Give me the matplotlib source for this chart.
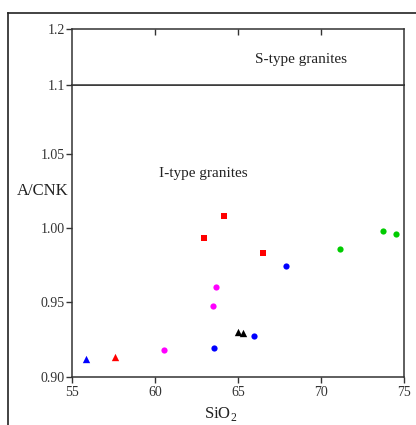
import numpy as np
import matplotlib
matplotlib.use('Agg')
import matplotlib.pyplot as plt
from matplotlib.lines import Line2D

plt.rcParams['font.family'] = 'Liberation Serif'
plt.rcParams['mathtext.fontset'] = 'custom'
plt.rcParams['mathtext.rm'] = 'Liberation Serif'

# SiO2 vs A/CNK, one list pair per sample group
blue_tri_x = [55.85]
blue_tri_y = [0.912]
red_tri_x = [57.6]
red_tri_y = [0.913]
magenta_x = [60.56, 63.49, 63.67]
magenta_y = [0.918, 0.947, 0.960]
blue_dot_x = [63.57, 65.98, 67.87]
blue_dot_y = [0.919, 0.927, 0.974]
black_tri_x = [65.0, 65.32]
black_tri_y = [0.930, 0.929]
red_sq_x = [62.93, 64.16, 66.49]
red_sq_y = [0.993, 1.008, 0.983]
green_x = [71.14, 73.75, 74.52]
green_y = [0.986, 0.998, 0.996]

xticks = [55, 60, 65, 70, 75]
yticks_low = [0.90, 0.95, 1.00, 1.05, 1.1]
ylabels_low = ['0.90', '0.95', '1.00', '1.05', '1.1']

# the original diagram's y axis is slightly uneven between ticks
y_knots = np.array([0.90, 0.95, 1.00, 1.05, 1.10])
y_pos = np.array([0.0, 75.0, 148.7, 222.4, 291.4])


def fwd(v):
    return np.interp(v, y_knots, y_pos, left=-1e3, right=1e3)


def inv(p):
    return np.interp(p, y_pos, y_knots)


fig = plt.figure(figsize=(4.16, 4.25), dpi=100)

# outer frame
fig.add_artist(Line2D([8/416, 8/416], [0, 1 - 13/425], color='#222222', lw=1.2))
fig.add_artist(Line2D([8/416, 1], [1 - 13/425, 1 - 13/425], color='#222222', lw=1.2))

left, width = 72/416, 332/416
y_bot = 1 - 376.7/425
y_mid = 1 - 85.3/425
y_top = 1 - 29/425

ax = fig.add_axes([left, y_bot, width, y_mid - y_bot])
ax_up = fig.add_axes([left, y_mid, width, y_top - y_mid])

spine_col = '#333333'
for a in (ax, ax_up):
    for s in a.spines.values():
        s.set_color(spine_col)
        s.set_linewidth(1.1)
    a.set_xlim(55, 75)

ax.set_yscale('function', functions=(fwd, inv))

ms = 20
ax.scatter(blue_tri_x, blue_tri_y, marker='^', s=ms + 8, c='#0000ff', lw=0)
ax.scatter(red_tri_x, red_tri_y, marker='^', s=ms + 8, c='#ff0000', lw=0)
ax.scatter(magenta_x, magenta_y, marker='o', s=ms, c='#ff00ff', lw=0)
ax.scatter(blue_dot_x, blue_dot_y, marker='o', s=ms, c='#0000ff', lw=0)
ax.scatter(black_tri_x, black_tri_y, marker='^', s=ms + 8, c='#000000', lw=0)
ax.scatter(red_sq_x, red_sq_y, marker='s', s=ms, c='#ff0000', lw=0)
ax.scatter(green_x, green_y, marker='o', s=ms, c='#00cc00', lw=0)

ax.set_ylim(0.9, 1.1)
ax.set_yticks(yticks_low)
ax.set_yticklabels(ylabels_low)
ax.minorticks_off()
ax.set_xticks(xticks)
ax.tick_params(axis='both', direction='out', length=4, width=1,
               color=spine_col, labelsize=10, labelcolor='#333333', pad=1)
ax.tick_params(axis='x', pad=3)

ax_up.set_ylim(1.1, 1.2)
ax_up.set_yticks([1.2])
ax_up.set_yticklabels(['1.2'])
ax_up.tick_params(axis='y', direction='out', length=4, width=1,
                  color=spine_col, labelsize=10, labelcolor='#333333', pad=1)
ax_up.set_xticks([60, 65, 70])
ax_up.tick_params(axis='x', top=True, bottom=False, labeltop=False,
                  labelbottom=False, direction='in', length=4, width=1,
                  color=spine_col)

ax_up.text(0.69, 0.45, 'S-type granites', transform=ax_up.transAxes,
           ha='center', va='center', fontsize=11, color='#222222')
ax.text(0.395, 0.699, 'I-type granites', transform=ax.transAxes,
        ha='center', va='center', fontsize=11, color='#222222')

fig.text(43/416, 1 - 191/425, 'A/CNK', ha='center', va='center',
         fontsize=12, color='#222222')
fig.text(221/416, 1 - 414/425, r'SiO$_2$', ha='center', va='center',
         fontsize=12, color='#222222')

fig.savefig('out.png', dpi=100)
